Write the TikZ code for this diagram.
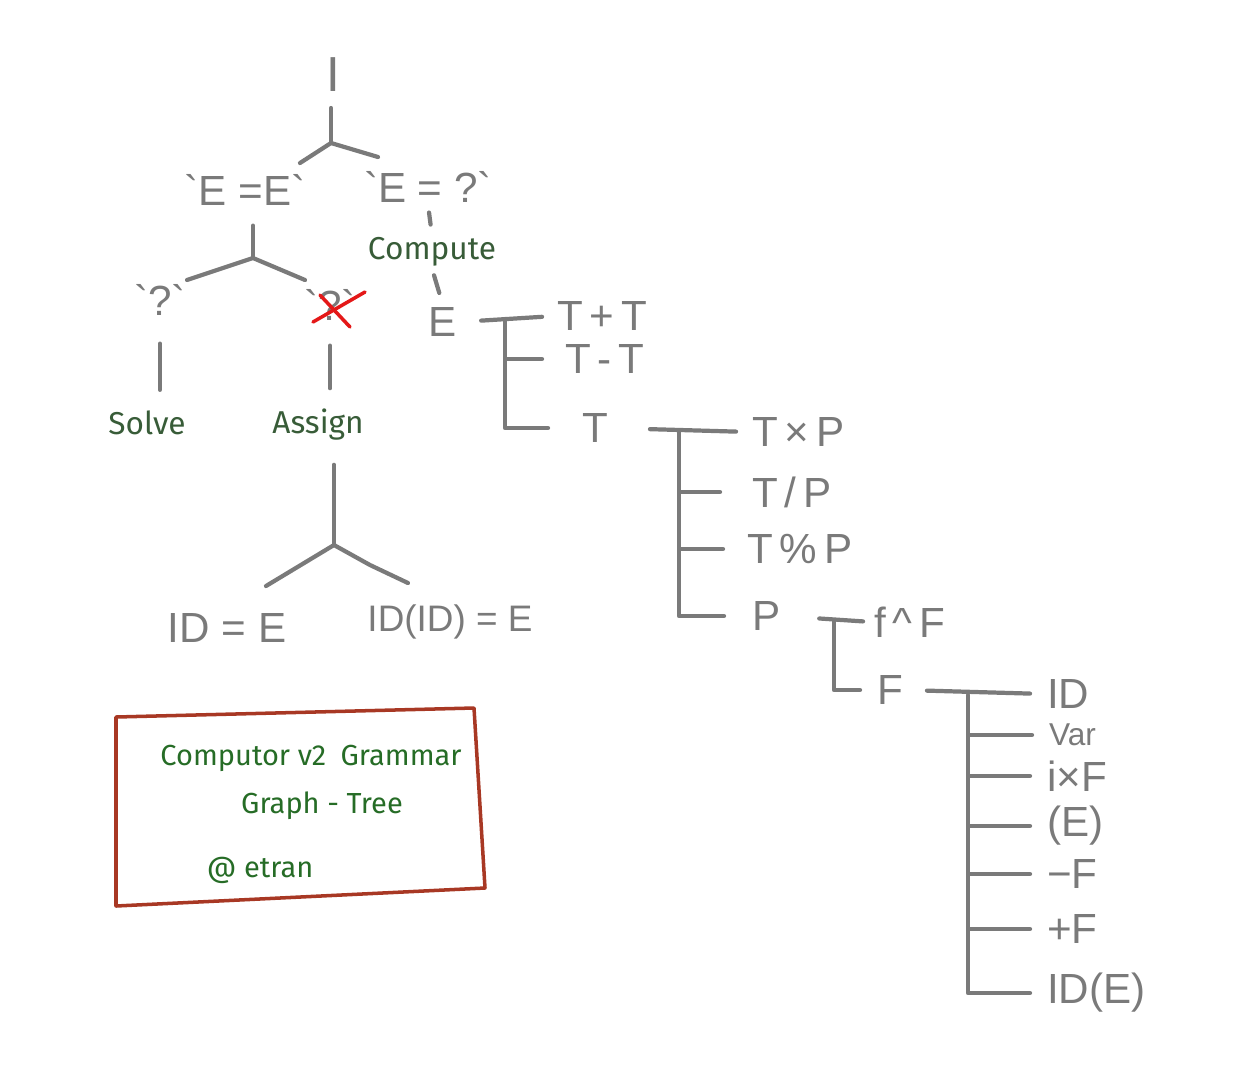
\documentclass[tikz,border=0pt]{standalone}
\usepackage{fontspec}
\setmainfont{Fira Sans}
\newfontfamily\grayhand{Liberation Sans}
\tikzset{>=stealth}
\definecolor{penGray}{RGB}{122,122,122}
\definecolor{penGreen}{RGB}{56,92,56}
\definecolor{titleGreen}{RGB}{38,108,38}
\definecolor{boxRed}{RGB}{168,56,36}
\definecolor{crossRed}{RGB}{228,24,24}
\tikzset{
	edge/.style={draw=penGray,line width=2.4pt,line cap=round,line join=round},
	sym/.style={text=penGray,font=\grayhand\fontsize{24}{24}\selectfont,inner sep=1pt},
	rule/.style={sym,anchor=west},
	act/.style={text=penGreen,font=\fontsize{18}{18}\selectfont,inner sep=1pt},
	title/.style={text=titleGreen,font=\fontsize{16.5}{16.5}\selectfont,inner sep=1pt},
	crossline/.style={draw=crossRed,line width=2pt,line cap=round},
}

\begin{document}
\begin{tikzpicture}[x=0.02cm,y=-0.02cm]
				\useasboundingbox (0,0) rectangle (1243,1069);
				% top of the tree
				\node [sym,font=\grayhand\fontsize{28}{28}\selectfont] (I) at (333,75) {I};
				\node [sym] (eqee) at (245,190) {\textasciigrave E =E\textasciigrave};
				\node [sym] (eqeq) at (428,187) {\textasciigrave E = ?\textasciigrave};
				\coordinate (jI) at (331,143);
				\coordinate (bIl) at (300,163);
				\coordinate (bIr) at (378,157);
				\draw [edge,shorten <=0.28cm] (I.south -| jI) -- (jI);
				\draw [edge] (bIl) -- (jI) -- (bIr);
				% `E =E` splits in two
				\node [sym] (qs) at (160,300) {\textasciigrave?\textasciigrave};
				\node [sym] (qa) at (330,305) {\textasciigrave?\textasciigrave};
				\coordinate (jEE) at (253,258);
				\coordinate (bEl) at (187,280);
				\coordinate (bEr) at (305,280);
				\draw [edge,shorten <=0.36cm] (eqee.south -| jEE) -- (jEE);
				\draw [edge] (bEl) -- (jEE) -- (bEr);
				\draw [crossline] ([shift={(-17,17)}]qa.center) -- ([shift={(35,-13)}]qa.center);% struck out
				\draw [crossline] ([shift={(-10,-10)}]qa.center) -- ([shift={(20,22)}]qa.center);
				\node [act] (solve) at (147,423) {Solve};
				\node [act] (assign) at (318,425) {Assign};
				\draw [edge,shorten <=0.52cm,shorten >=0.38cm] (qs.south) -- (qs.south |- solve.north);
				\draw [edge,shorten <=0.46cm,shorten >=0.38cm] (qa.south) -- (qa.south |- assign.north);
				% Assign
				\node [sym] (idE) at (227,628) {ID = E};
				\node [sym,font=\grayhand\fontsize{21}{21}\selectfont] (ididE) at (450,622) {ID(ID) = E};
				\coordinate (jA) at (334,545);
				\coordinate (bAl) at (266,586);
				\coordinate (bAk) at (370,565);
				\coordinate (bAr) at (408,583);
				\draw [edge,shorten <=0.44cm] (assign.south -| jA) -- (jA);
				\draw [edge] (bAl) -- (jA) -- (bAk) -- (bAr);
				% Compute
				\node [act] (compute) at (432,252) {Compute};
				\node [sym] (E) at (443,322) {E};
				\draw [edge,shorten <=0.16cm,shorten >=0.22cm] (eqeq.south) -- (compute.north);
				\draw [edge,shorten <=0.14cm,shorten >=0.26cm] (compute.south) -- (E.north);
				% E -> T
				\node [rule] (tpt) at (555,316) {T\,+\,T};
				\node [rule] (tmt) at (563,359) {T\,-\,T};
				\node [rule] (t) at (580,428) {T};
				\coordinate (jE) at (505,319);
				\draw [edge,shorten <=0.44cm,shorten >=0.26cm] (E.east) -- (tpt.west);
				\draw [edge,shorten >=0.42cm] (jE) |- (tmt.west);
				\draw [edge,shorten >=0.64cm] (jE) |- (t.west);
				% T -> P
				\node [rule] (txp) at (750,432) {T\,×\,P};
				\node [rule] (tdp) at (750,492) {T\,/\,P};
				\node [rule] (tmp) at (745,549) {T\,\%\,P};
				\node [rule] (p) at (750,616) {P};
				\coordinate (jT) at (679,431);
				\draw [edge,shorten <=0.8cm,shorten >=0.28cm] (t.east) -- (txp.west);
				\draw [edge,shorten >=0.6cm] (jT) |- (tdp.west);
				\draw [edge,shorten >=0.44cm] (jT) |- (tmp.west);
				\draw [edge,shorten >=0.52cm] (jT) |- (p.west);
				% P -> F
				\node [rule] (fpf) at (872,622) {f\,\textasciicircum\,F};
				\node [rule] (f) at (875,690) {F};
				\coordinate (jP) at (834,620);
				\draw [edge,shorten <=0.74cm,shorten >=0.18cm] (p.east) -- (fpf.west);
				\draw [edge,shorten >=0.3cm] (jP) |- (f.west);
				% F
				\node [rule] (id) at (1045,694) {ID};
				\node [rule,font=\grayhand\fontsize{18}{18}\selectfont] (var) at (1047,735) {Var};
				\node [rule] (ixf) at (1045,776) {i×F};
				\node [rule] (pe) at (1045,826) {(E)};
				\node [rule] (mf) at (1045,874) {−F};
				\node [rule] (pf) at (1045,929) {+F};
				\node [rule] (ide) at (1045,993) {ID(E)};
				\coordinate (jF) at (968,696);
				\draw [edge,shorten <=0.44cm,shorten >=0.3cm] (f.east) -- (id.west);
				\foreach \n in {var,ixf,pe,mf,pf,ide}
					\draw [edge,shorten >=0.3cm] (jF) |- (\n.west);
				% title box
				\draw [boxRed,line width=2pt,line join=round] (116,717) -- (474,708) -- (485,888) -- (116,906) -- cycle;
				\node [title] (ttl) at (311,758) {Computor v2\enspace Grammar};
				\node [title] (sub) at (322,806) {Graph - Tree};
				\node [title] (who) at (260,870) {@ etran};
\end{tikzpicture}
\end{document}
